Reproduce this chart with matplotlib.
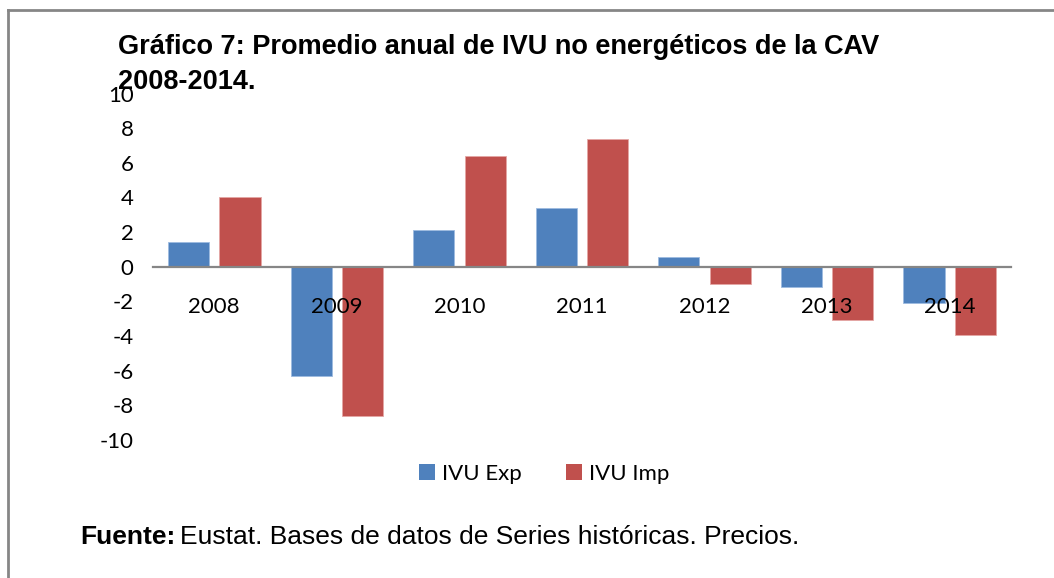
import matplotlib
matplotlib.use("Agg")
import matplotlib.pyplot as plt
import numpy as np
from matplotlib.patches import Patch
from matplotlib.lines import Line2D

years = ["2008", "2009", "2010", "2011", "2012", "2013", "2014"]
ivu_exp = [1.4, -6.3, 2.15, 3.4, 0.55, -1.15, -2.1]
ivu_imp = [4.0, -8.6, 6.4, 7.35, -1.0, -3.05, -3.95]
yticks = [-10, -8, -6, -4, -2, 0, 2, 4, 6, 8, 10]

blue = "#4F81BD"
red = "#C0504D"
W, H = 1054, 578
fig = plt.figure(figsize=(W / 100, H / 100), dpi=100)
fig.patch.set_facecolor("white")

ax = fig.add_axes([153 / W, 1 - 440 / H, (1011 - 153) / W, (440 - 93.5) / H])
x = np.arange(len(years))
bw = 0.335
ax.bar(x - 0.21, ivu_exp, bw, color=blue, edgecolor="#9dbbe0", linewidth=0.6, zorder=2)
ax.bar(x + 0.21, ivu_imp, bw, color=red, edgecolor="#e4a6a4", linewidth=0.6, zorder=2)
ax.set_xlim(-0.5, len(years) - 0.5)
ax.set_ylim(-10, 10)
ax.set_axisbelow(False)
ax.xaxis.set_zorder(5)
for s in ["top", "right", "left"]:
    ax.spines[s].set_visible(False)
ax.spines["bottom"].set_position(("data", 0))
ax.spines["bottom"].set_color("#868686")
ax.spines["bottom"].set_linewidth(1.6)
ax.spines["bottom"].set_zorder(3)
ax.set_xticks(x)
ax.set_xticklabels(years, fontfamily="Lato", fontsize=16)
ax.tick_params(axis="x", length=0, pad=22)
ax.set_yticks(yticks)
ax.set_yticklabels([str(v) for v in yticks], fontfamily="Lato", fontsize=16)
ax.tick_params(axis="y", length=0, pad=14)
ax.set_facecolor("none")

# legend
handles = [Patch(facecolor=blue, edgecolor="none"), Patch(facecolor=red, edgecolor="none")]
leg = fig.legend(handles, ["IVU Exp", "IVU Imp"], loc="center", bbox_to_anchor=(544 / W, 1 - 474 / H),
                 ncol=2, frameon=False, prop={"family": "Lato", "size": 16},
                 handlelength=0.72, handleheight=0.72, handletextpad=0.3, columnspacing=2.0)

# title
fig.text(118 / W, 1 - 47 / H, "Gráfico 7: Promedio anual de IVU no energéticos de la CAV",
         fontfamily="Liberation Sans", fontweight="bold", fontsize=19.5, va="center", ha="left")
fig.text(118 / W, 1 - 82 / H, "2008-2014.",
         fontfamily="Liberation Sans", fontweight="bold", fontsize=19.5, va="center", ha="left")

# source
t1 = fig.text(80 / W, 1 - 537 / H, "Fuente:", fontfamily="Liberation Sans", fontweight="bold",
              fontsize=19, va="center", ha="left")
fig.canvas.draw()
bb = t1.get_window_extent()
fig.text(bb.x1 / W + 5 / W, 1 - 537 / H, "Eustat. Bases de datos de Series históricas. Precios.",
         fontfamily="Liberation Sans", fontsize=19, va="center", ha="left")

# outer frame
fig.add_artist(Line2D([7.5 / W, 7.5 / W], [0, 1 - 10 / H], transform=fig.transFigure,
                      color="#868686", lw=2))
fig.add_artist(Line2D([7.5 / W, 1], [1 - 10 / H, 1 - 10 / H], transform=fig.transFigure,
                      color="#868686", lw=2))

fig.savefig("out.png", dpi=100)
